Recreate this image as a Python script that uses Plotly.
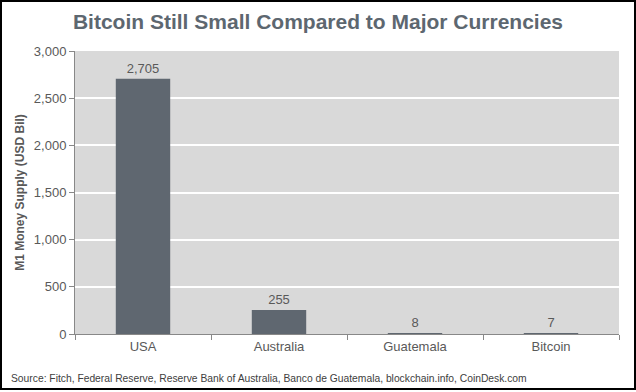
import plotly.graph_objects as go

categories = ["USA", "Australia", "Guatemala", "Bitcoin"]
values = [2705, 255, 8, 7]
value_labels = ["2,705", "255", "8", "7"]
y_ticks = [0, 500, 1000, 1500, 2000, 2500, 3000]
y_tick_labels = ["0", "500", "1,000", "1,500", "2,000", "2,500", "3,000"]

W, H = 636, 392
L, R, T, B = 75, 17, 51, 58
pw, ph = W - L - R, H - T - B

fig = go.Figure(go.Bar(
    x=categories, y=values, text=value_labels, textposition="outside",
    textfont=dict(color="#595959", size=13), marker=dict(color="#5f6770", line=dict(width=0)),
    cliponaxis=False, hoverinfo="skip",
))

def px_x(p):
    return (p - L) / pw

def px_y(p):
    return 1 - (p - T) / ph

fig.update_layout(
    width=W, height=H,
    margin=dict(l=L, r=R, t=T, b=B, autoexpand=False),
    paper_bgcolor="white", plot_bgcolor="#d9d9d9",
    font=dict(family="Liberation Sans, Arial, sans-serif", color="#595959"),
    bargap=0.6,
    showlegend=False,
    title=dict(text="<b>Bitcoin Still Small Compared to Major Currencies</b>",
               x=0.5, xref="container", xanchor="center", y=1 - 22 / H, yanchor="middle",
               font=dict(size=21, color="#5d6770")),
    xaxis=dict(showline=True, linecolor="#888888", linewidth=1, ticks="outside",
               tickson="boundaries", ticklen=5, tickcolor="#888888",
               tickfont=dict(size=13, color="#595959"), showgrid=False),
    yaxis=dict(range=[0, 3000], tickvals=y_ticks, ticktext=y_tick_labels,
               showline=True, linecolor="#888888", linewidth=1, ticks="outside",
               ticklen=5, tickcolor="#888888", gridcolor="white", gridwidth=1.5,
               zeroline=False, tickfont=dict(size=13, color="#595959"),
               title=dict(text="<b>M1 Money Supply (USD Bil)</b>", standoff=6,
                          font=dict(size=12, color="#595959"))),
    shapes=[dict(type="rect", xref="paper", yref="paper",
                 x0=px_x(1), x1=px_x(W - 1), y0=px_y(H - 3), y1=px_y(1),
                 line=dict(color="black", width=2), fillcolor="rgba(0,0,0,0)", layer="above")],
    annotations=[dict(text="Source: Fitch, Federal Reserve, Reserve Bank of Australia, Banco de Guatemala, blockchain.info, CoinDesk.com",
                      xref="paper", yref="paper", x=px_x(9), y=px_y(378), xanchor="left", yanchor="middle",
                      showarrow=False, font=dict(size=10.3, color="#404040"))],
)

fig.write_html("out.html", config={"displayModeBar": False},
               post_script="document.body.style.margin='0';document.body.style.overflow='hidden';")
